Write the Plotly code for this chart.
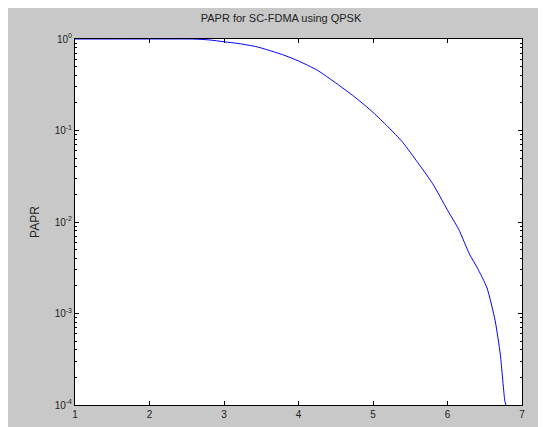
import plotly.graph_objects as go

# CCDF of PAPR
papr_db = [1.0, 1.5, 2.0, 2.3, 2.6, 2.8, 3.0, 3.2, 3.45, 3.8, 4.0, 4.25, 4.5, 4.75,
           5.0, 5.2, 5.4, 5.6, 5.8, 6.0, 6.15, 6.3, 6.4, 6.53, 6.64, 6.71, 6.77,
           6.785]
ccdf = [1.0, 1.0, 1.0, 1.0, 0.998, 0.977, 0.933, 0.891, 0.818, 0.668, 0.575,
        0.457, 0.331, 0.234, 0.158, 0.110, 0.0741, 0.0447, 0.0263, 0.0135,
        0.0083, 0.00437, 0.00316, 0.0019, 0.00083, 0.00035, 0.00011, 0.0001]

x_ticks = [1, 2, 3, 4, 5, 6, 7]
y_ticks = [1e-4, 1e-3, 1e-2, 1e-1, 1]
y_ticktext = ["10<sup>-4</sup>", "10<sup>-3</sup>", "10<sup>-2</sup>",
              "10<sup>-1</sup>", "10<sup>0</sup>"]
y_minor = [m * 10 ** e for e in range(-4, 0) for m in range(2, 10)]

fig = go.Figure()
fig.add_trace(go.Scatter(x=papr_db, y=ccdf, mode="lines", line_shape="spline",
                         line=dict(color="#0000ff", width=1, smoothing=0.6),
                         showlegend=False))

font = dict(family="Liberation Sans, Arial, sans-serif", size=10, color="#222222")
fig.update_layout(
    width=546, height=427,
    paper_bgcolor="#c8c8c8", plot_bgcolor="#ffffff",
    margin=dict(l=67, r=32, t=31, b=30),
    title=dict(text="PAPR for SC-FDMA using QPSK", x=0.5, xanchor="center",
               y=0.985, yanchor="top", font=dict(family=font["family"], size=11, color="#222222")),
    font=font,
)
fig.update_xaxes(range=[1, 7], tickvals=x_ticks, ticks="inside", ticklen=4,
                 showline=True, linecolor="black", linewidth=1, mirror="ticks",
                 showgrid=False, zeroline=False, tickcolor="black")
fig.update_yaxes(type="log", range=[-4, 0], tickvals=y_ticks, ticktext=y_ticktext,
                 ticks="inside", ticklen=4, showline=True, linecolor="black",
                 linewidth=1, mirror="ticks", showgrid=False, zeroline=False,
                 tickcolor="black",
                 minor=dict(tickvals=y_minor, ticks="inside", ticklen=2,
                            tickcolor="black", showgrid=False),
                 title=dict(text="PAPR", standoff=12))
fig.write_html("out.html")
